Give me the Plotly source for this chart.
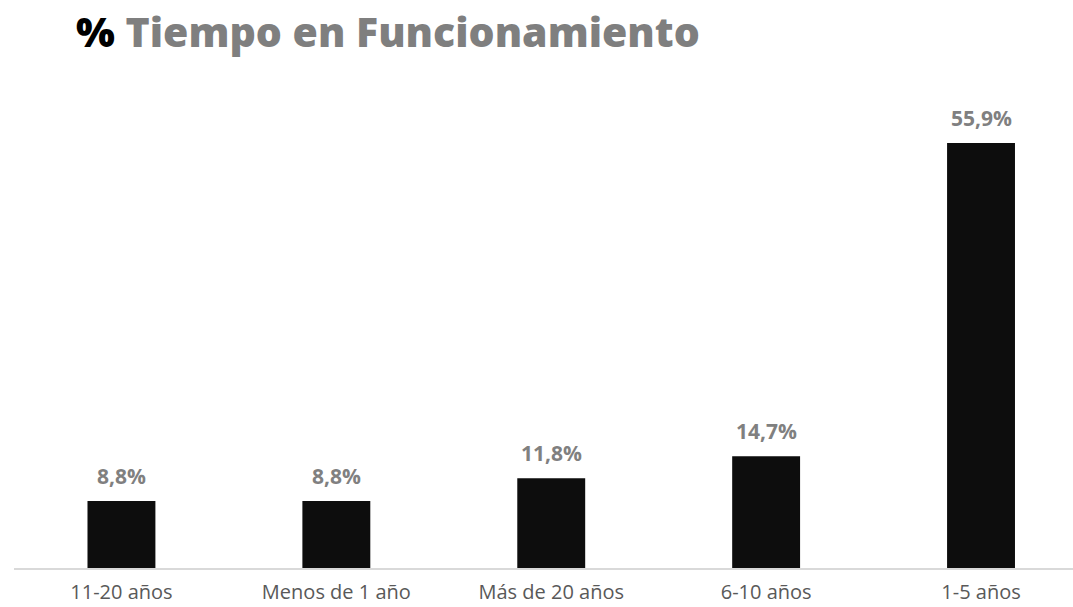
import plotly.graph_objects as go

categories = ["11-20 años", "Menos de 1 año", "Más de 20 años", "6-10 años", "1-5 años"]
values = [8.8, 8.8, 11.8, 14.7, 55.9]
value_labels = ["8,8%", "8,8%", "11,8%", "14,7%", "55,9%"]

fig = go.Figure()
fig.add_trace(go.Bar(
    x=categories,
    y=values,
    marker=dict(color="#0d0d0d", line=dict(width=0)),
    width=0.316,
    hoverinfo="skip",
))

for cat, val, lab in zip(categories, values, value_labels):
    fig.add_annotation(
        x=cat, y=val, text=lab, showarrow=False,
        yanchor="bottom", yshift=9,
        font=dict(family="Open Sans", size=21, color="#808080", weight="bold"),
    )

fig.add_annotation(
    xref="paper", yref="paper", x=0, y=1, xanchor="left", yanchor="bottom",
    xshift=60, yshift=39,
    text="<span style='color:#000000'>%</span> Tiempo en Funcionamiento",
    showarrow=False,
    font=dict(family="Open Sans", size=41, color="#7f7f7f", weight=800),
)

fig.update_layout(
    width=1073, height=607,
    margin=dict(l=14, r=0, t=100, b=39),
    paper_bgcolor="white", plot_bgcolor="white",
    showlegend=False,
    xaxis=dict(
        range=[-0.5, 4.428],
        showline=True, linecolor="#d9d9d9", linewidth=2,
        showgrid=False, zeroline=False, ticks="",
        ticklabelstandoff=5, automargin=False,
        tickfont=dict(family="Open Sans", size=20, color="#595959"),
        fixedrange=True,
    ),
    yaxis=dict(
        range=[0, 61.55], visible=False, showgrid=False, zeroline=False,
        fixedrange=True, automargin=False,
    ),
)

fig.write_html("out.html")
